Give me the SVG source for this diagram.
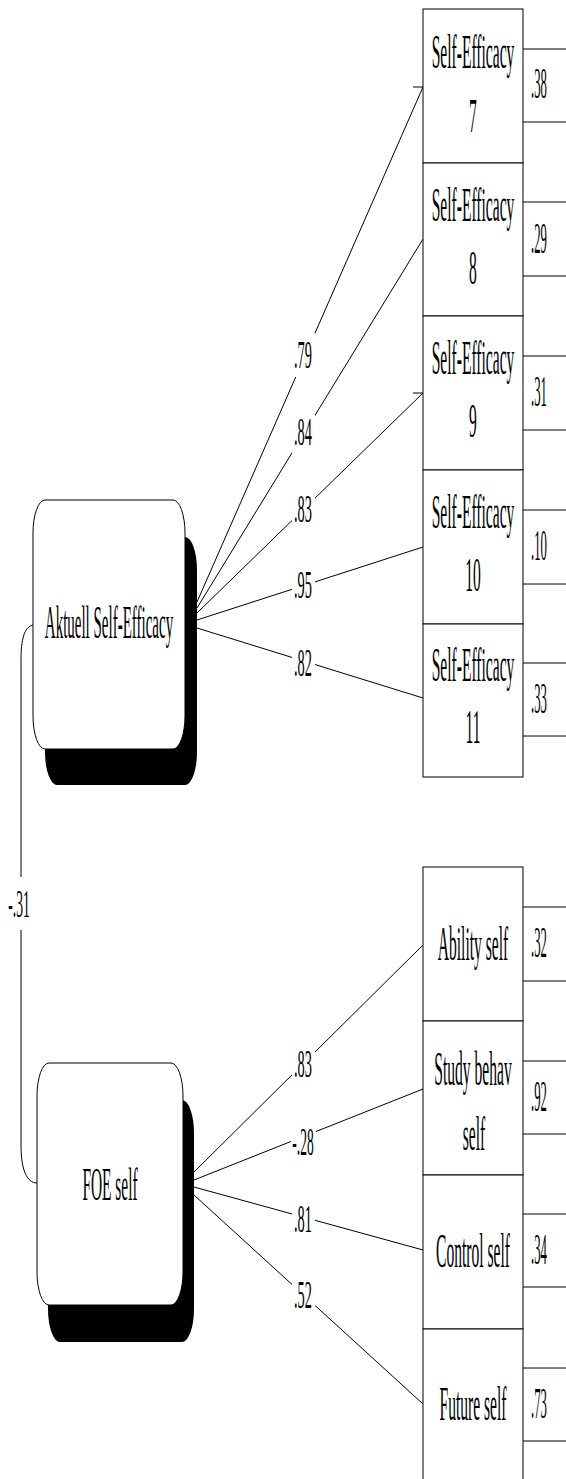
<svg xmlns="http://www.w3.org/2000/svg" width="566" height="1479" viewBox="0 0 566 1479">
<style>
text{font-family:"Liberation Serif","Times New Roman",serif;fill:#000;}
.ind{font-size:49px;text-anchor:middle;}
.lat{font-size:46px;text-anchor:middle;}
.lbl{font-size:41px;text-anchor:middle;}
.err{font-size:44px;}
.box{fill:#fff;stroke:#000;stroke-width:1;}
.ln{stroke:#000;stroke-width:1;fill:none;}
.bg{fill:#fff;}
.sh{fill:#000;}
.lt{fill:#fff;stroke:#000;stroke-width:1;}
</style>
<rect width="566" height="1479" fill="#fff"/>
<g id="connectors">
  <line class="ln" x1="197" y1="602" x2="423" y2="87"/>
  <line class="ln" x1="197" y1="608" x2="423" y2="239"/>
  <line class="ln" x1="197" y1="613" x2="423" y2="393"/>
  <line class="ln" x1="197" y1="620" x2="423" y2="547"/>
  <line class="ln" x1="197" y1="628" x2="423" y2="698"/>
  <line class="ln" x1="413" y1="87" x2="423" y2="87"/>
  <line class="ln" x1="413" y1="393" x2="423" y2="393"/>
  <line class="ln" x1="194" y1="1172" x2="423" y2="945"/>
  <line class="ln" x1="194" y1="1180" x2="423" y2="1089"/>
  <line class="ln" x1="194" y1="1187" x2="423" y2="1250"/>
  <line class="ln" x1="194" y1="1195" x2="423" y2="1404"/>
  <path class="ln" d="M33,625 C24,627 21,640 21,660 L21,1145 C21,1170 27,1183 37,1183"/>
  <rect class="bg" x="292" y="333" width="23" height="44"/>
  <rect class="bg" x="292" y="411" width="23" height="42"/>
  <rect class="bg" x="292" y="487" width="23" height="42"/>
  <rect class="bg" x="292" y="566" width="23" height="38"/>
  <rect class="bg" x="292" y="648" width="23" height="34"/>
  <rect class="bg" x="292" y="1043" width="23" height="40"/>
  <rect class="bg" x="291" y="1122" width="25" height="38"/>
  <rect class="bg" x="292" y="1199" width="23" height="38"/>
  <rect class="bg" x="292" y="1274" width="23" height="40"/>
  <rect class="bg" x="7" y="877" width="26" height="53"/>
  <text class="lbl" transform="translate(303,368) scale(0.35,1)">.79</text>
  <text class="lbl" transform="translate(303,445) scale(0.35,1)">.84</text>
  <text class="lbl" transform="translate(303,522) scale(0.35,1)">.83</text>
  <text class="lbl" transform="translate(303,598) scale(0.35,1)">.95</text>
  <text class="lbl" transform="translate(303,676) scale(0.35,1)">.82</text>
  <text class="lbl" transform="translate(303,1077) scale(0.35,1)">.83</text>
  <text class="lbl" transform="translate(303,1155) scale(0.33,1)">-.28</text>
  <text class="lbl" transform="translate(303,1232) scale(0.35,1)">.81</text>
  <text class="lbl" transform="translate(303,1308) scale(0.35,1)">.52</text>
  <text class="lbl" transform="translate(19,917) scale(0.33,1)">-.31</text>
</g>
<g id="latent-aktuell">
  <path class="sh" d="M57,537 H185 A12,33 0 0 1 197,570 V752 A12,33 0 0 1 185,785 H57 A12,33 0 0 1 45,752 V570 A12,33 0 0 1 57,537 Z"/>
  <path class="lt" d="M45,500 H173 A12,33 0 0 1 185,533 V716 A12,33 0 0 1 173,749 H45 A12,33 0 0 1 33,716 V533 A12,33 0 0 1 45,500 Z"/>
  <text class="lat" transform="translate(109,638) scale(0.326,1)">Aktuell Self-Efficacy</text>
</g>
<g id="latent-foe">
  <path class="sh" d="M60,1100 H182 A12,33 0 0 1 194,1133 V1309 A12,33 0 0 1 182,1342 H60 A12,33 0 0 1 48,1309 V1133 A12,33 0 0 1 60,1100 Z"/>
  <path class="lt" d="M49,1063 H171 A12,33 0 0 1 183,1096 V1272 A12,33 0 0 1 171,1305 H49 A12,33 0 0 1 37,1272 V1096 A12,33 0 0 1 49,1063 Z"/>
  <text class="lat" transform="translate(110,1200) scale(0.335,1)">FOE self</text>
</g>
<g id="se7">
  <rect class="box" x="423" y="9" width="100" height="154"/>
  <text class="ind" transform="translate(473,68) scale(0.318,1)">Self-Efficacy</text>
  <text class="ind" transform="translate(473,132) scale(0.318,1)">7</text>
  <line class="ln" x1="523" y1="49" x2="566" y2="49"/>
  <line class="ln" x1="523" y1="122" x2="566" y2="122"/>
  <text class="err" transform="translate(531,98) scale(0.29,1)">.38</text>
</g>
<g id="se8">
  <rect class="box" x="423" y="163" width="100" height="153"/>
  <text class="ind" transform="translate(473,221) scale(0.318,1)">Self-Efficacy</text>
  <text class="ind" transform="translate(473,284) scale(0.318,1)">8</text>
  <line class="ln" x1="523" y1="202" x2="566" y2="202"/>
  <line class="ln" x1="523" y1="276" x2="566" y2="276"/>
  <text class="err" transform="translate(531,253) scale(0.29,1)">.29</text>
</g>
<g id="se9">
  <rect class="box" x="423" y="316" width="100" height="154"/>
  <text class="ind" transform="translate(473,374) scale(0.318,1)">Self-Efficacy</text>
  <text class="ind" transform="translate(473,437) scale(0.318,1)">9</text>
  <line class="ln" x1="523" y1="356" x2="566" y2="356"/>
  <line class="ln" x1="523" y1="430" x2="566" y2="430"/>
  <text class="err" transform="translate(531,406) scale(0.29,1)">.31</text>
</g>
<g id="se10">
  <rect class="box" x="423" y="470" width="100" height="154"/>
  <text class="ind" transform="translate(473,528) scale(0.318,1)">Self-Efficacy</text>
  <text class="ind" transform="translate(473,591) scale(0.318,1)">10</text>
  <line class="ln" x1="523" y1="510" x2="566" y2="510"/>
  <line class="ln" x1="523" y1="584" x2="566" y2="584"/>
  <text class="err" transform="translate(531,560) scale(0.29,1)">.10</text>
</g>
<g id="se11">
  <rect class="box" x="423" y="624" width="100" height="153"/>
  <text class="ind" transform="translate(473,681) scale(0.318,1)">Self-Efficacy</text>
  <text class="ind" transform="translate(473,743) scale(0.318,1)">11</text>
  <line class="ln" x1="523" y1="663" x2="566" y2="663"/>
  <line class="ln" x1="523" y1="736" x2="566" y2="736"/>
  <text class="err" transform="translate(531,713) scale(0.29,1)">.33</text>
</g>
<g id="ability">
  <rect class="box" x="423" y="867" width="100" height="154"/>
  <text class="ind" transform="translate(473,960) scale(0.318,1)">Ability self</text>
  <line class="ln" x1="523" y1="907" x2="566" y2="907"/>
  <line class="ln" x1="523" y1="981" x2="566" y2="981"/>
  <text class="err" transform="translate(531,957) scale(0.29,1)">.32</text>
</g>
<g id="study">
  <rect class="box" x="423" y="1021" width="100" height="154"/>
  <text class="ind" transform="translate(473,1085) scale(0.318,1)">Study behav</text>
  <text class="ind" transform="translate(474,1150) scale(0.318,1)">self</text>
  <line class="ln" x1="523" y1="1061" x2="566" y2="1061"/>
  <line class="ln" x1="523" y1="1134" x2="566" y2="1134"/>
  <text class="err" transform="translate(531,1111) scale(0.29,1)">.92</text>
</g>
<g id="control">
  <rect class="box" x="423" y="1175" width="100" height="154"/>
  <text class="ind" transform="translate(473,1267) scale(0.318,1)">Control self</text>
  <line class="ln" x1="523" y1="1214" x2="566" y2="1214"/>
  <line class="ln" x1="523" y1="1287" x2="566" y2="1287"/>
  <text class="err" transform="translate(531,1264) scale(0.29,1)">.34</text>
</g>
<g id="future">
  <rect class="box" x="423" y="1329" width="100" height="160"/>
  <text class="ind" transform="translate(473,1420) scale(0.318,1)">Future self</text>
  <line class="ln" x1="523" y1="1368" x2="566" y2="1368"/>
  <line class="ln" x1="523" y1="1441" x2="566" y2="1441"/>
  <text class="err" transform="translate(531,1418) scale(0.29,1)">.73</text>
</g>
</svg>
